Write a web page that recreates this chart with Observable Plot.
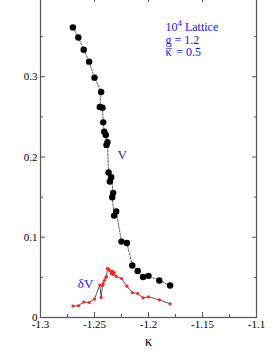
<!DOCTYPE html>
<html>
<head>
<meta charset="utf-8">
<script src="https://cdn.jsdelivr.net/npm/d3@7"></script>
<script src="https://cdn.jsdelivr.net/npm/@observablehq/plot@0.6"></script>
<style>
  html, body { margin: 0; padding: 0; background: #fff; }
  #chart svg { display: block; margin-top: -4px; }
</style>
</head>
<body>
<div id="chart"></div>
<script>
// V (order as connected by the dashed line)
const vKappa = [-1.270, -1.265, -1.260, -1.255, -1.250, -1.2438, -1.2451, -1.2426, -1.2419, -1.2410,
  -1.2395, -1.2389, -1.2380, -1.2370, -1.2358, -1.2345, -1.2327, -1.2336, -1.2318, -1.2299,
  -1.225, -1.220, -1.215, -1.210, -1.205, -1.200, -1.190, -1.180];
const vValue = [0.3615, 0.349, 0.3337, 0.3188, 0.2989, 0.2811, 0.2624, 0.2615, 0.2432, 0.2316,
  0.2275, 0.2151, 0.2183, 0.1806, 0.1694, 0.1747, 0.1553, 0.1498, 0.1270, 0.1320,
  0.0946, 0.0928, 0.0648, 0.0579, 0.0504, 0.0519, 0.0461, 0.0398];

// deltaV
const dvKappa = [-1.270, -1.265, -1.260, -1.255, -1.250, -1.2451, -1.2438, -1.2426, -1.2419, -1.2410,
  -1.2395, -1.2389, -1.2380, -1.2370, -1.2358, -1.2345, -1.2336, -1.2327, -1.2318, -1.2299,
  -1.225, -1.220, -1.215, -1.210, -1.205, -1.200, -1.190, -1.180];
const dvValue = [0.0143, 0.0146, 0.0193, 0.0187, 0.0230, 0.0405, 0.0249, 0.0399, 0.0423, 0.0461,
  0.0498, 0.0511, 0.0610, 0.0604, 0.0585, 0.0548, 0.0579, 0.0535, 0.0560, 0.0511,
  0.0486, 0.0390, 0.0311, 0.0299, 0.0245, 0.0258, 0.0220, 0.0171];

const xMajor = [-1.3, -1.25, -1.2, -1.15, -1.1];
const xMinor = [-1.275, -1.225, -1.175, -1.125];
const yMajor = [0, 0.1, 0.2, 0.3, 0.4];
const yMinor = [0.05, 0.15, 0.25, 0.35];
const yLabels = ["0", "0.1", "0.2", "0.3", ""];
const xLabels = ["-1.3", "-1.25", "-1.2", "-1.15", "-1.1"];

const infoLines = ["10 Lattice", "g = 1.2", "\u03BA = 0.5"];
const infoText = infoLines.join("\n");

const V = vKappa.map((k, i) => ({k, v: vValue[i]}));
const DV = dvKappa.map((k, i) => ({k, v: dvValue[i]}));

const blue = "#1414ff";
const axisColor = "#555";
const font = "Liberation Serif, Times New Roman, serif";

const xFmt = d => xLabels[xMajor.indexOf(d)] ?? "";
const yFmt = d => yLabels[yMajor.indexOf(d)] ?? "";

const chart = Plot.plot({
  width: 277,
  height: 362,
  marginLeft: 40,
  marginRight: 21,
  marginTop: 0,
  marginBottom: 41,
  style: {fontFamily: font, fontSize: "11px", color: "#000", background: "#fff"},
  x: {domain: [-1.3, -1.1], label: null},
  y: {domain: [0, 0.4], label: null},
  marks: [
    // minor ticks
    Plot.axisX({anchor: "bottom", ticks: xMinor, tickSize: -3, tickFormat: () => "", stroke: axisColor, label: null}),
    Plot.axisX({anchor: "top", ticks: xMinor, tickSize: -3, tickFormat: () => "", stroke: axisColor, label: null}),
    Plot.axisY({anchor: "left", ticks: yMinor, tickSize: -3, tickFormat: () => "", stroke: axisColor, label: null}),
    Plot.axisY({anchor: "right", ticks: yMinor, tickSize: -3, tickFormat: () => "", stroke: axisColor, label: null}),
    // major ticks + labels
    Plot.axisX({anchor: "bottom", ticks: xMajor, tickSize: -5, tickPadding: 8, tickFormat: xFmt, stroke: axisColor, fill: "#000", label: null}),
    Plot.axisX({anchor: "top", ticks: xMajor, tickSize: -5, tickFormat: () => "", stroke: axisColor, label: null}),
    Plot.axisY({anchor: "left", ticks: yMajor, tickSize: -5, tickPadding: 8, tickFormat: yFmt, stroke: axisColor, fill: "#000", label: null}),
    Plot.axisY({anchor: "right", ticks: yMajor, tickSize: -5, tickFormat: () => "", stroke: axisColor, label: null}),
    Plot.frame({stroke: axisColor, strokeWidth: 1.2}),
    // V
    Plot.line(V, {x: "k", y: "v", stroke: "#333", strokeWidth: 0.8, strokeDasharray: "2,1.5", curve: "linear"}),
    Plot.dot(V, {x: "k", y: "v", r: 3.2, fill: "#000", stroke: "none"}),
    // deltaV
    Plot.line(DV, {x: "k", y: "v", stroke: "#444", strokeWidth: 0.9}),
    Plot.dot(DV, {x: "k", y: "v", r: 1.6, fill: "#ff2020", stroke: "none"}),
    // annotations
    Plot.text([infoText], {x: -1.1843, y: 0.368, text: d => d, textAnchor: "start", lineAnchor: "top", lineHeight: 1.05, fill: blue, fontSize: 12, fontFamily: font}),
    Plot.text(["V"], {x: -1.2244, y: 0.2026, text: d => d, fill: blue, fontSize: 13, fontFamily: font}),
    Plot.text(["\u03B4V"], {x: -1.2583, y: 0.042, text: d => d, fill: blue, fontSize: 13, fontFamily: font}),
    // x axis label
    Plot.text(["\u03BA"], {frameAnchor: "bottom", dy: 28, text: d => d, fill: "#000", fontSize: 14, fontFamily: font})
  ]
});

// rich text: superscript 4 and kappa-bar
const svgNS = "http://www.w3.org/2000/svg";
function tspan(parent, txt, attrs = {}) {
  const t = document.createElementNS(svgNS, "tspan");
  t.textContent = txt;
  for (const [k, v] of Object.entries(attrs)) t.setAttribute(k, v);
  parent.appendChild(t);
  return t;
}
chart.querySelectorAll("text").forEach(txt => {
  const spans = txt.querySelectorAll(":scope > tspan");
  if (spans.length === 3 && spans[0].textContent === infoLines[0]) {
    const l1 = spans[0];
    l1.textContent = "";
    tspan(l1, "10");
    tspan(l1, "4", {dy: "-5", "font-size": "9"});
    tspan(l1, " Lattice", {dy: "5"});
    const l3 = spans[2];
    l3.textContent = "";
    tspan(l3, "\u03BA");
    tspan(l3, "\u00AF", {dx: "-5.6", dy: "1.5"});
    tspan(l3, " = 0.5", {dx: "1.4", dy: "-1.5"});
  }
});

document.getElementById("chart").appendChild(chart);
</script>
</body>
</html>
